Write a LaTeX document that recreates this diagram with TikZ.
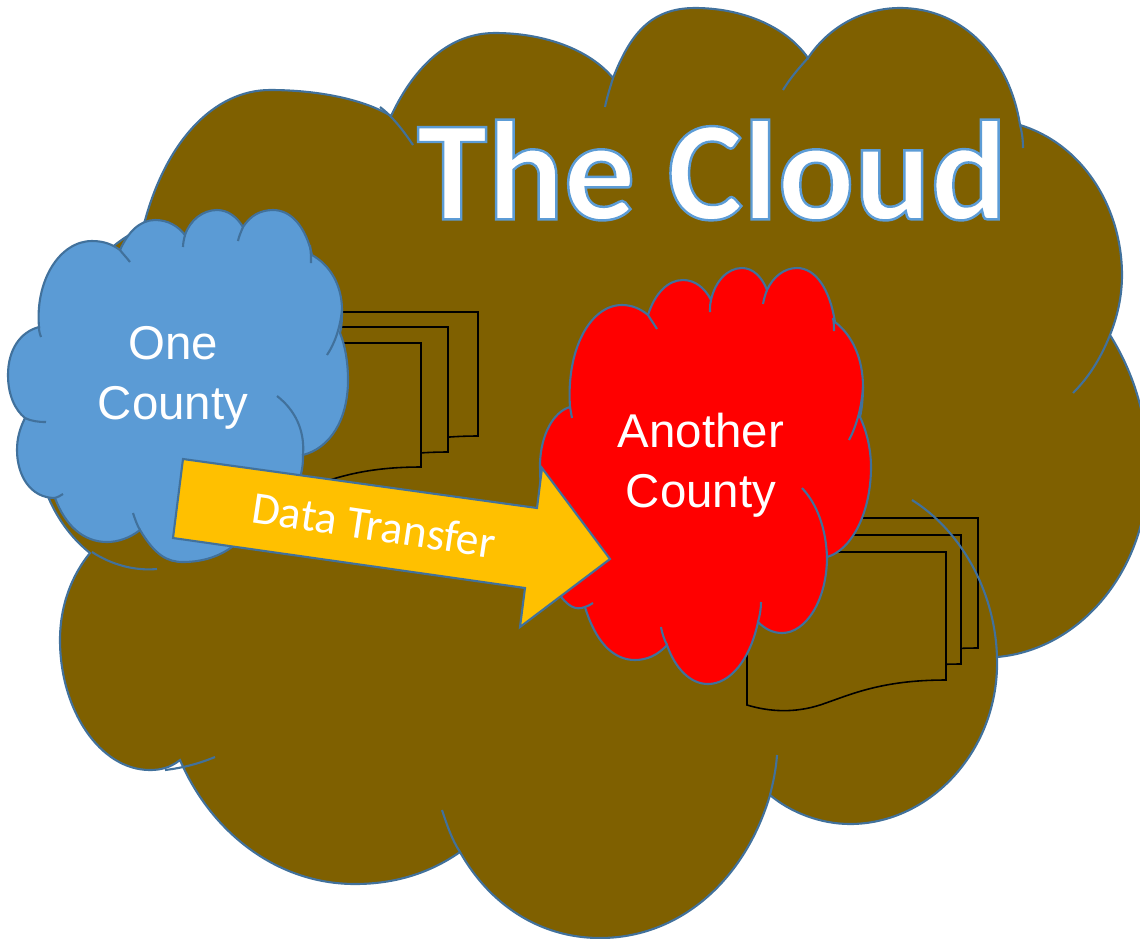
\documentclass[tikz,border=0pt]{standalone}
\usepackage{fontspec}
\setmainfont{Liberation Sans}
\newfontfamily\calibrifont{Carlito}
\definecolor{cloudbrown}{HTML}{7F6000}
\definecolor{cloudblue}{HTML}{5B9BD5}
\definecolor{cloudline}{HTML}{41719C}
\definecolor{arrowgold}{HTML}{FFC000}
\tikzset{
	cloudedge/.style={draw=cloudline, line width=1.2pt},
	sheet/.style={draw=black, fill=cloudbrown, line width=0.9pt},
	countytext/.style={text=white, align=center, font=\fontsize{27}{34}\selectfont},
}
\begin{document}
\begin{tikzpicture}[x=0.02cm, y=-0.02cm]
	\useasboundingbox (0,0) rectangle (1140,938);
	\clip (0,0) rectangle (1140,938);
	% big cloud
	\draw[cloudedge, fill=cloudbrown] (143,228) .. controls (165,140) and (215,90) .. (270,90) .. controls (320,90) and (365,100) .. (391,116)
		.. controls (415,65) and (450,33) .. (495,33) .. controls (545,33) and (590,50) .. (613,78)
		.. controls (630,35) and (650,8) .. (695,8) .. controls (740,8) and (785,25) .. (808,58)
		.. controls (830,25) and (865,8) .. (900,8) .. controls (965,8) and (1010,60) .. (1020,125)
		.. controls (1085,145) and (1122,210) .. (1122,275) .. controls (1122,295) and (1118,315) .. (1110,335)
		.. controls (1135,375) and (1148,420) .. (1148,470) .. controls (1148,570) and (1080,650) .. (997,657)
		.. controls (1000,750) and (930,824) .. (850,824) .. controls (820,824) and (790,812) .. (770,795)
		.. controls (745,880) and (680,938) .. (600,938) .. controls (540,938) and (490,905) .. (460,852)
		.. controls (430,873) and (395,884) .. (355,884) .. controls (275,884) and (210,830) .. (180,760)
		.. controls (170,768) and (160,770) .. (150,770) .. controls (100,770) and (60,710) .. (60,640) .. controls (60,605) and (72,575) .. (90,553)
		.. controls (55,525) and (35,480) .. (35,430) .. controls (35,330) and (90,250) .. (143,228) -- cycle;
	% sheets beside the clouds
	\foreach \sleft/\sright/\stop/\sbot in {300/478/312/436, 280/448/327/452, 222/421/343/467, 800/978/518/648, 780/961/535/664, 747/946/552/680}{
		\draw[sheet] (\sleft,\stop) -- (\sright,\stop) -- (\sright,\sbot) .. controls ({\sright-66},\sbot) and ({\sright-96},{\sbot+15}) .. ({\sright-126},{\sbot+25})
			.. controls ({\sright-151},{\sbot+33}) and ({\sright-176},{\sbot+32}) .. (\sleft,{\sbot+25}) -- cycle;
	}
	% big cloud inner strokes
	\draw[cloudedge] (380,107) .. controls (392,116) and (403,130) .. (413,145);
	\draw[cloudedge] (613,78) .. controls (610,88) and (607,97) .. (605,107);
	\draw[cloudedge] (808,58) .. controls (797,70) and (789,80) .. (783,90);
	\draw[cloudedge] (1020,125) .. controls (1022,132) and (1023,140) .. (1023,148);
	\draw[cloudedge] (1110,335) .. controls (1100,360) and (1088,378) .. (1073,393);
	\draw[cloudedge] (997,657) .. controls (995,590) and (960,530) .. (912,500);
	\draw[cloudedge] (777,755) .. controls (776,770) and (773,783) .. (770,795);
	\draw[cloudedge] (460,852) .. controls (452,840) and (447,825) .. (442,810);
	\draw[cloudedge] (165,770) .. controls (182,768) and (198,764) .. (215,757);
	\draw[cloudedge] (92,552) .. controls (112,565) and (135,571) .. (157,569);
	% blue cloud
	\draw[cloudedge, fill=cloudblue] (39,327) .. controls (35,280) and (60,241) .. (92,241) .. controls (105,241) and (113,245) .. (120,250)
		.. controls (128,232) and (140,220) .. (155,220) .. controls (168,220) and (178,226) .. (185,235)
		.. controls (190,220) and (203,210) .. (217,210) .. controls (228,210) and (237,217) .. (243,227)
		.. controls (250,216) and (260,210) .. (273,210) .. controls (292,210) and (306,228) .. (312,255)
		.. controls (330,265) and (342,285) .. (342,310) .. controls (342,318) and (342,325) .. (340,333)
		.. controls (345,345) and (348,362) .. (348,380) .. controls (348,420) and (330,448) .. (303,455)
		.. controls (304,490) and (280,520) .. (240,540) .. controls (225,555) and (205,562) .. (183,562) .. controls (167,562) and (155,555) .. (140,530)
		.. controls (130,538) and (118,542) .. (107,542) .. controls (83,542) and (65,525) .. (55,498)
		.. controls (30,498) and (17,475) .. (17,450) .. controls (17,438) and (20,428) .. (25,418)
		.. controls (15,410) and (8,395) .. (8,375) .. controls (8,350) and (20,332) .. (39,327) -- cycle;
	\draw[cloudedge] (39,327) .. controls (39,332) and (40,334) .. (41,337);
	\draw[cloudedge] (120,250) .. controls (123,254) and (127,258) .. (130,262);
	\draw[cloudedge] (185,235) .. controls (184,239) and (183,243) .. (183,247);
	\draw[cloudedge] (243,227) .. controls (241,232) and (239,236) .. (238,241);
	\draw[cloudedge] (310,245) .. controls (311,252) and (311,258) .. (311,263);
	\draw[cloudedge] (342,310) .. controls (340,328) and (335,343) .. (327,355);
	\draw[cloudedge] (303,455) .. controls (305,430) and (295,410) .. (277,396);
	\draw[cloudedge] (140,530) .. controls (137,525) and (135,519) .. (133,513);
	\draw[cloudedge] (55,498) .. controls (58,497) and (60,496) .. (63,494);
	\draw[cloudedge] (25,418) .. controls (31,421) and (38,422) .. (46,422);
	% red cloud
	\draw[cloudedge, fill=red] (570,407) .. controls (566,350) and (590,305) .. (622,305) .. controls (632,305) and (641,309) .. (648,315)
		.. controls (655,293) and (668,280) .. (683,280) .. controls (695,280) and (705,288) .. (711,300)
		.. controls (715,282) and (727,268) .. (742,268) .. controls (753,268) and (762,277) .. (767,290)
		.. controls (773,277) and (784,268) .. (797,268) .. controls (816,268) and (830,290) .. (835,322)
		.. controls (852,335) and (863,358) .. (863,387) .. controls (863,398) and (862,408) .. (860,417)
		.. controls (867,432) and (871,450) .. (871,467) .. controls (871,512) and (852,550) .. (827,557)
		.. controls (827,600) and (806,633) .. (782,633) .. controls (773,633) and (765,629) .. (758,622)
		.. controls (750,660) and (730,684) .. (708,684) .. controls (690,684) and (675,668) .. (667,645)
		.. controls (658,655) and (647,660) .. (635,660) .. controls (612,660) and (595,640) .. (585,607)
		.. controls (575,611) and (568,605) .. (562,598) .. controls (550,570) and (540,510) .. (540,463)
		.. controls (541,435) and (553,412) .. (570,407) -- cycle;
	\draw[cloudedge] (570,407) -- (572,418);
	\draw[cloudedge] (648,315) .. controls (651,320) and (654,324) .. (657,329);
	\draw[cloudedge] (711,300) .. controls (710,304) and (710,308) .. (710,312);
	\draw[cloudedge] (767,290) .. controls (765,295) and (764,299) .. (763,304);
	\draw[cloudedge] (833,318) .. controls (834,323) and (834,327) .. (834,331);
	\draw[cloudedge] (863,387) .. controls (862,405) and (857,425) .. (849,440);
	\draw[cloudedge] (827,557) .. controls (826,530) and (818,505) .. (802,488);
	\draw[cloudedge] (758,622) .. controls (760,615) and (761,608) .. (761,602);
	\draw[cloudedge] (667,645) .. controls (664,639) and (662,633) .. (661,627);
	\draw[cloudedge] (585,607) .. controls (588,606) and (590,605) .. (593,603);
	% arrow
	\draw[cloudedge, fill=arrowgold, line join=miter] (183,459) -- (537,508) -- (542,468) -- (610,559) -- (520,627) -- (525,588) -- (173,538) -- cycle;
	% labels
	\node[countytext] (onecounty) at (173,378) {One\\County};
	\node[countytext] (anothercounty) at (701,465) {Another\\County};
	\node[text=white, rotate=-8.5, font=\calibrifont\fontsize{26}{30}\selectfont] (transfer) at (374,525) {Data Transfer};
	\node[text=white, font=\calibrifont\bfseries\fontsize{81}{90}\selectfont] (cloudtitle) at (712,170) {\special{pdf:code q 0.36 0.61 0.84 RG 1.4 w 2 Tr}The Cloud\special{pdf:code Q}};
\end{tikzpicture}
\end{document}
